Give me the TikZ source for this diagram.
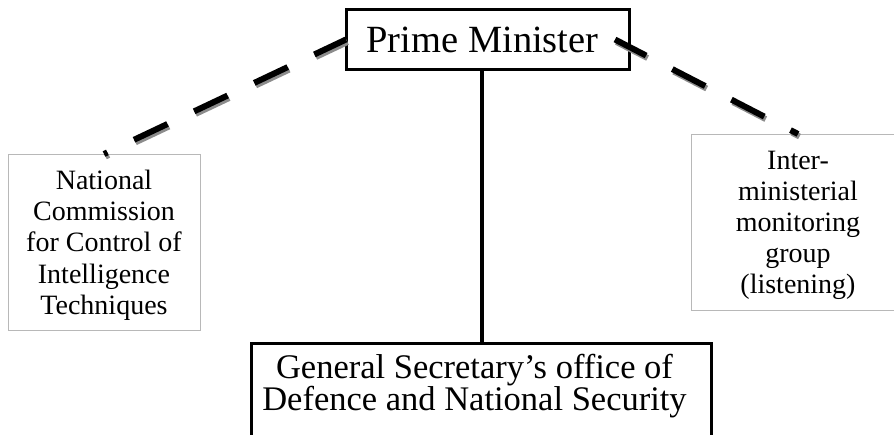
\documentclass[tikz,border=0pt]{standalone}
\usepackage{fontspec}
\setmainfont{Liberation Serif}
\begin{document}
\begin{tikzpicture}[x=1pt,y=-1pt,
  mainbox/.style={draw=black,line width=3pt,outer sep=0pt,inner sep=0pt,fill=white},
  sidebox/.style={draw=black!28,line width=1pt,outer sep=0pt,inner sep=0pt},
  boxtext/.style={align=center,inner sep=0pt,outer sep=0pt},
  dashlink/.style={line width=6pt,dash pattern=on 37pt off 29.5pt,dash phase=2pt},
  shadowlink/.style={dashlink,draw=black!45},
  solidlink/.style={line width=3.5pt}]
\useasboundingbox (0,0) rectangle (894,434);
\clip (0,0) rectangle (894,434);
% boxes
\node[sidebox,minimum width=192pt,minimum height=176pt] (ncc) at (104,242) {};
\node[sidebox,minimum width=214pt,minimum height=176pt] (ig) at (798,222) {};
\node[mainbox,minimum width=283pt,minimum height=60pt] (pm) at (487.5,39.5) {};
\node[mainbox,line width=3.5pt,minimum width=460pt,minimum height=120pt] (gs) at (481.5,403.5) {};
% texts
\node[boxtext,font=\fontsize{38.5}{44}\selectfont] (pmtext) at (482.5,40) {Prime Minister};
\node[boxtext,font=\fontsize{34.5}{31.5}\selectfont] (gstext) at (474.5,386) {General Secretary’s office of\\Defence and National Security};
\node[boxtext,font=\fontsize{28}{31.3}\selectfont] (ncctext) at (104,245) {National\\Commission\\for Control of\\Intelligence\\Techniques};
\node[boxtext,font=\fontsize{28}{31}\selectfont] (igtext) at (798,225) {Inter-\\ministerial\\monitoring\\group\\(listening)};
% connectors
\coordinate (vx) at (482,0);
\draw[solidlink] (pm.south -| vx) -- (gs.north -| vx);
\draw[shadowlink] ([shift={(1.5,2.5)}]pm.west) -- ([shift={(1.5,2.5)}]ncc.north);
\draw[dashlink] (pm.west) -- (ncc.north);
\draw[shadowlink] ([shift={(-12.5,2.5)}]pm.east) -- ([shift={(1.5,2.5)}]ig.north);
\draw[dashlink] ([xshift=-14pt]pm.east) -- (ig.north);
\end{tikzpicture}
\end{document}
